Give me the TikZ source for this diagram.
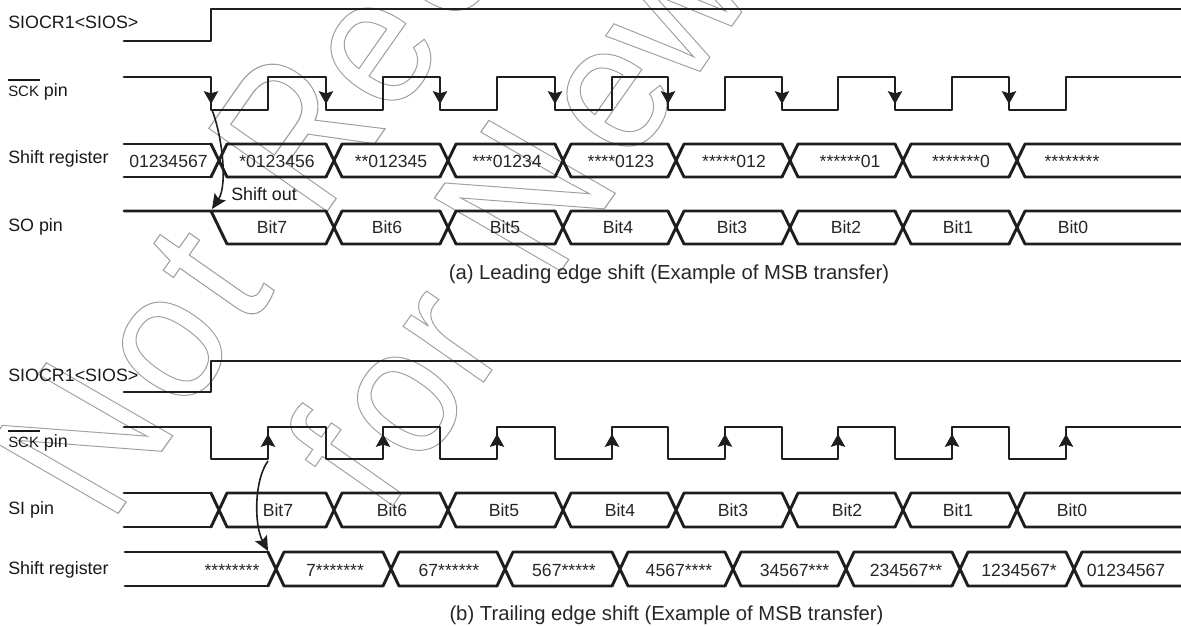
\documentclass[tikz,border=0pt]{standalone}
\usepackage{fontspec}
\setmainfont{Liberation Sans}
\usetikzlibrary{arrows.meta}
\newcommand{\wmtext}[1]{\special{pdf:code 1 Tr 0.85 w}#1\special{pdf:code 0 Tr}}
\newcommand{\sckbar}{\leavevmode\rlap{\raisebox{11.6pt}{\rule{23.5pt}{0.9pt}}}{\fontsize{11.2pt}{12pt}\selectfont SCK}\ pin}
\definecolor{sig}{HTML}{1E1E1E}
\definecolor{wmgray}{HTML}{A0A0A0}
\tikzset{
  wire/.style={draw=sig,line width=2.2pt,line cap=round,line join=round},
  tiparrow/.style={draw=sig,line width=2.2pt,-{Stealth[length=9.5pt,width=10.5pt,inset=1.5pt,sep=0pt]}},
  curvearrow/.style={draw=sig,line width=1.2pt,-{Stealth[length=11pt,width=10pt,inset=2pt]}},
  lbl/.style={anchor=base west,inner sep=0pt,font=\fontsize{13.4pt}{15pt}\selectfont,text=black!90},
  val/.style={anchor=base,inner sep=0pt,font=\fontsize{13.2pt}{15pt}\selectfont,text=black!85},
  captext/.style={anchor=base,inner sep=0pt,font=\fontsize{15.2pt}{17pt}\selectfont,text=black!85},
  wmbase/.style={anchor=base west,inner sep=0pt,text=wmgray,font=\fontsize{150pt}{150pt}\selectfont},
  wmlow/.style={wmbase,cm={0.488,0.696,-0.758,0.531,(0,0)}},
  wmtall/.style={wmbase,cm={0.53,0.757,-0.80,0.56,(0,0)}},
  wmcap/.style={wmbase,cm={0.488,0.696,-0.860,0.603,(0,0)}},
  wmn/.style={wmbase,cm={0.488,0.696,-0.918,0.530,(0,0)}},
}
\begin{document}
\begin{tikzpicture}[x=0.75pt,y=-0.75pt]
\useasboundingbox (0,0) rectangle (1181,625);
\clip (0,0) rectangle (1181,625);
% watermark
\node[wmn] (wmN) at (110,525) {\wmtext{N}};
\node[wmlow] (wmO) at (185,416) {\wmtext{o}};
\node[wmtall] (wmT) at (246,332) {\wmtext{t}};
\node[wmcap] (wmR) at (319,223) {\wmtext{R}};
\node[wmlow] (wmE) at (393,121) {\wmtext{e}};
\node[wmlow] (wmC) at (456,31) {\wmtext{c}};
\node[wmlow] (wmF) at (384,518) {\wmtext{f}};
\node[wmlow] (wmOb) at (420,471) {\wmtext{o}};
\node[wmlow] (wmRb) at (476.6,392) {\wmtext{r}};
\node[wmn] (wmNb) at (552.6,282.6) {\wmtext{N}};
\node[wmlow] (wmEb) at (629,167) {\wmtext{e}};
\node[wmlow] (wmW) at (685.6,92) {\wmtext{w}};
% --- upper diagram ---
\draw[wire] (124,41) -- (211,41) -- (211,9) -- (1181,9);
\draw[wire] (124,77) -- (211,77) |- (268,110) |- (326,77) |- (383,110) |- (440,77) |- (497,110) |- (555,77) |- (612,110) |- (668,77) |- (725,110) |- (782,77) |- (838,110) |- (895,77) |- (952,110) |- (1009,77) |- (1066,110) |- (1181,77);
\foreach \x in {211,326,440,555,668,782,895,1009}
  \draw[tiparrow] (\x,80) -- (\x,104);
% shift register (upper)
\draw[wire] (124,144) -- (211,144) (124,177) -- (211,177);
\foreach \a/\b/\c in {211/227/326,326/342/440,440/456/555,555/571/668,668/684/782,782/798/895,895/911/1009,1009/1025/1185}
  \draw[wire] (\a,144) -- (\b,177) -- (\c,177) (\a,177) -- (\b,144) -- (\c,144);
% SO pin
\draw[wire] (124,211) -- (326,211) (211,211) -- (227,244) -- (326,244);
\foreach \a/\b/\c in {326/342/440,440/456/555,555/571/668,668/684/782,782/798/895,895/911/1009,1009/1025/1185}
  \draw[wire] (\a,211) -- (\b,244) -- (\c,244) (\a,244) -- (\b,211) -- (\c,211);
% --- lower diagram ---
\draw[wire] (124,392) -- (211,392) -- (211,361) -- (1181,361);
\draw[wire] (124,427) -- (211,427) |- (268,459) |- (326,427) |- (383,459) |- (440,427) |- (497,459) |- (555,427) |- (612,459) |- (668,427) |- (725,459) |- (782,427) |- (838,459) |- (895,427) |- (952,459) |- (1009,427) |- (1066,459) |- (1181,427);
\foreach \x in {268,383,497,612,725,838,952,1066}
  \draw[tiparrow] (\x,456) -- (\x,434);
% SI pin
\draw[wire] (124,493) -- (211,493) (124,527) -- (211,527);
\foreach \a/\b/\c in {211/227/326,326/342/440,440/456/555,555/571/668,668/684/782,782/798/895,895/911/1009,1009/1025/1185}
  \draw[wire] (\a,493) -- (\b,527) -- (\c,527) (\a,527) -- (\b,493) -- (\c,493);
% shift register (lower)
\draw[wire] (125,552) -- (268,552) (125,586) -- (268,586);
\foreach \a/\b/\c in {268/284/383,383/399/497,497/513/612,612/628/725,725/741/838,838/854/952,952/968/1066,1066/1082/1185}
  \draw[wire] (\a,552) -- (\b,586) -- (\c,586) (\a,586) -- (\b,552) -- (\c,552);
% curved arrows
\coordinate (upFrom) at (212,110);
\coordinate (upTo) at (212,209);
\coordinate (loFrom) at (268,461);
\coordinate (loTo) at (268,551);
\draw[curvearrow] (upFrom) .. controls (222,135) and (228,185) .. (upTo);
\draw[curvearrow] (loFrom) .. controls (254,480) and (254,525) .. (loTo);
% labels
\node[lbl] (lSiosA) at (8,28.5) {SIOCR1<SIOS>};
\node[lbl] (lSckA) at (8,96) {\sckbar};
\node[lbl] (lSrA) at (8,163) {Shift register};
\node[lbl] (lSo) at (8,231) {SO pin};
\node[lbl] (lShift) at (231,200) {Shift out};
\node[lbl] (lSiosB) at (8,381) {SIOCR1<SIOS>};
\node[lbl] (lSckB) at (8,447) {\sckbar};
\node[lbl] (lSi) at (8,514) {SI pin};
\node[lbl] (lSrB) at (8,574) {Shift register};
\foreach \x/\t [count=\i] in {168.5/01234567,277/*0123456,391/**012345,507/***01234,621/****0123,734/*****012,850/******01,961/*******0,1072/********}
  \node[val] (ra\i) at (\x,167) {\t};
\foreach \x/\t [count=\i] in {272/Bit7,387/Bit6,505/Bit5,618/Bit4,732/Bit3,846/Bit2,958/Bit1,1073/Bit0}
  \node[val] (so\i) at (\x,233) {\t};
\foreach \x/\t [count=\i] in {278/Bit7,392/Bit6,504/Bit5,620/Bit4,733/Bit3,847/Bit2,958/Bit1,1072/Bit0}
  \node[val] (si\i) at (\x,516) {\t};
\foreach \x/\t [count=\i] in {232/********,335/7*******,449/67******,564/567*****,679/4567****,794.5/34567***,906/234567**,1019/1234567*,1126/01234567}
  \node[val] (rb\i) at (\x,576) {\t};
\node[captext] (capA) at (669,279) {(a) Leading edge shift (Example of MSB transfer)};
\node[captext] (capB) at (666.5,620) {(b) Trailing edge shift (Example of MSB transfer)};
\end{tikzpicture}
\end{document}
